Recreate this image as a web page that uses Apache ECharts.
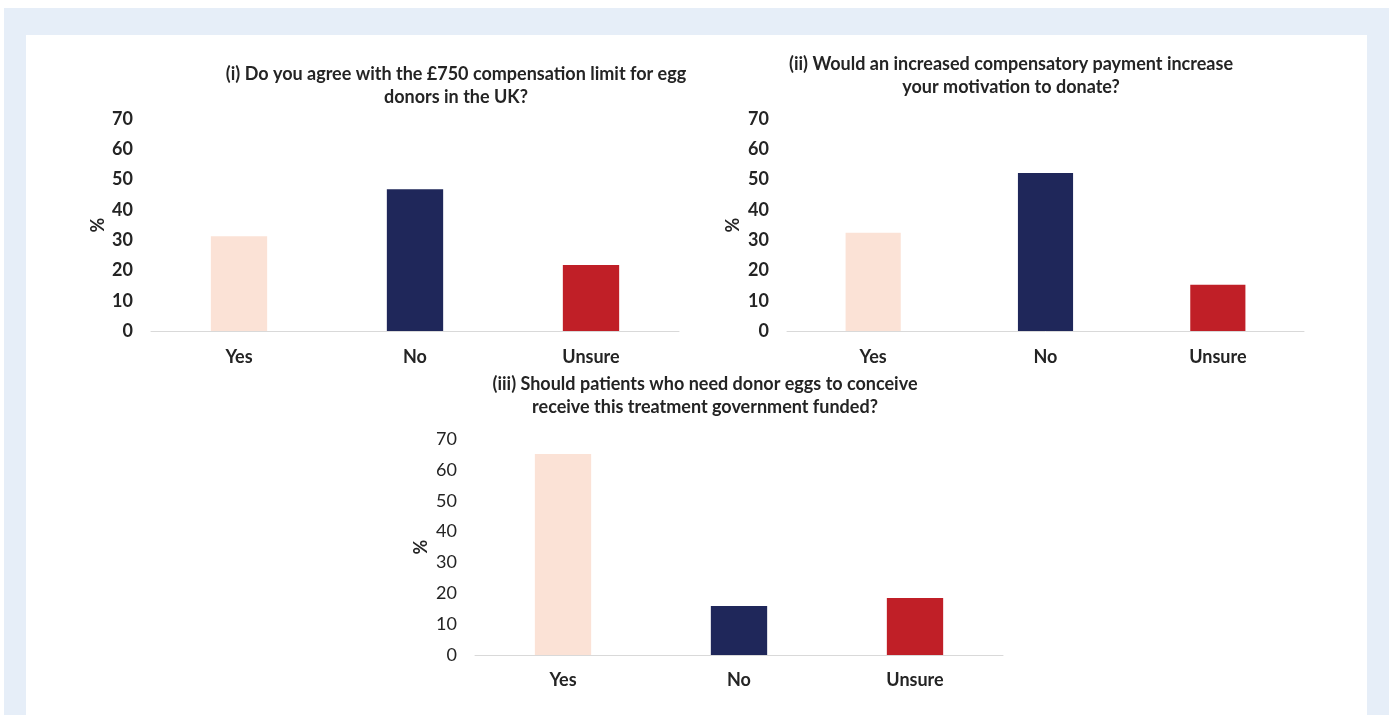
<!DOCTYPE html>
<html>
<head>
<meta charset="utf-8">
<script src="https://cdn.jsdelivr.net/npm/echarts@6/dist/echarts.min.js"></script>
<style>
  html, body { margin: 0; padding: 0; background: #ffffff; }
  #bg { position: absolute; left: 4px; top: 8px; width: 1385px; height: 707px; background: #e6eef8; }
  #panel { position: absolute; left: 26px; top: 35px; width: 1341px; height: 680px; background: #ffffff; }
  #chart { position: absolute; left: 0; top: 0; width: 1389px; height: 715px; }
</style>
</head>
<body>
<div id="bg"></div>
<div id="panel"></div>
<div id="chart"></div>
<script>
// ---- Data ----
const categories = ['Yes', 'No', 'Unsure'];
const compensationLimit = [31.3, 46.8, 21.8];        // (i)
const increasedPayment = [32.4, 52.2, 15.3];         // (ii)
const governmentFunded = [65.1, 15.9, 18.5];         // (iii)
const yTicks = [0, 10, 20, 30, 40, 50, 60, 70];
const titles = [
  '(i) Do you agree with the £750 compensation limit for egg\ndonors in the UK?',
  '(ii) Would an increased compensatory payment increase\nyour motivation to donate?',
  '(iii) Should patients who need donor eggs to conceive\nreceive this treatment government funded?'
];
const barColors = ['#fbe2d6', '#1f275a', '#c01f27'];

const FONT = 'Lato, "Open Sans", sans-serif';
const TXT = '#242424';

function coloured(values) {
  return values.map((v, i) => ({ value: v, itemStyle: { color: barColors[i] } }));
}

const grids = [
  { left: 151, width: 528, top: 119, height: 212 },
  { left: 787, width: 517, top: 119, height: 212 },
  { left: 475, width: 528, top: 439, height: 216 }
];
const titlePos = [
  { x: 456, y: 63 },
  { x: 1011, y: 53 },
  { x: 705, y: 373 }
];
const yBold = [true, true, false];
const nameGaps = [44, 45, 45];
const catMargins = [17, 17, 16];
const seriesData = [compensationLimit, increasedPayment, governmentFunded];

const chart = echarts.init(document.getElementById('chart'), null, { renderer: 'canvas' });

const option = {
  animation: false,
  backgroundColor: 'transparent',
  title: titles.map((t, i) => ({
    text: t,
    left: titlePos[i].x,
    top: titlePos[i].y,
    textAlign: 'center',
    padding: 0,
    textStyle: { fontFamily: FONT, fontWeight: 'bold', fontSize: 18, lineHeight: 23, color: TXT }
  })),
  grid: grids.map(g => Object.assign({ containLabel: false }, g)),
  xAxis: grids.map((g, i) => ({
    type: 'category',
    gridIndex: i,
    data: categories,
    axisLine: { show: true, lineStyle: { color: '#d9d9d9', width: 1 } },
    axisTick: { show: false },
    axisLabel: { margin: catMargins[i], fontFamily: FONT, fontWeight: 'bold', fontSize: 18, color: TXT }
  })),
  yAxis: grids.map((g, i) => ({
    type: 'value',
    gridIndex: i,
    min: yTicks[0],
    max: yTicks[yTicks.length - 1],
    interval: yTicks[1] - yTicks[0],
    name: '%',
    nameLocation: 'middle',
    nameGap: nameGaps[i],
    nameRotate: 90,
    nameTextStyle: { fontFamily: FONT, fontWeight: 'bold', fontSize: 18, color: TXT },
    axisLine: { show: false },
    axisTick: { show: false },
    splitLine: { show: false },
    axisLabel: { margin: 18, fontFamily: FONT, fontWeight: yBold[i] ? 'bold' : 'normal', fontSize: 18, color: TXT }
  })),
  series: seriesData.map((d, i) => ({
    type: 'bar',
    xAxisIndex: i,
    yAxisIndex: i,
    data: coloured(d),
    barWidth: '32%'
  }))
};
chart.setOption(option);
</script>
</body>
</html>
